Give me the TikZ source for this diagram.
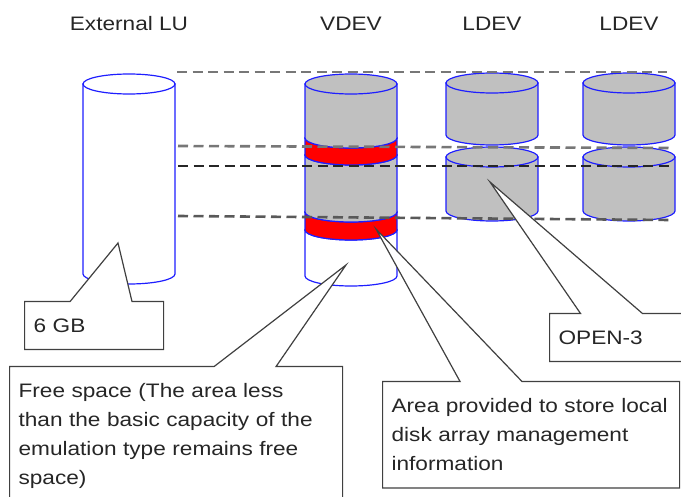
\documentclass[tikz,border=0pt]{standalone}
\usepackage{fontspec}
\setmainfont{Liberation Sans}[FakeStretch=1.16]
\usetikzlibrary{shapes.callouts}
\definecolor{DrumBlue}{HTML}{1E1EFF}
\definecolor{DrumGray}{HTML}{C0C0C0}
\definecolor{DrumRed}{HTML}{FF0000}
\definecolor{GuideGray}{HTML}{777777}
\definecolor{NoteInk}{HTML}{262626}
\definecolor{NoteEdge}{HTML}{404040}

% one slice of a drum: centre x, top y, bottom y, fill
\newcommand{\drumpart}[4]{%
  \filldraw[drum,fill=#4] (#1-46,#2) -- (#1-46,#3)
    arc[start angle=180,end angle=360,x radius=46pt,y radius=10pt] -- (#1+46,#2) -- cycle;
  \filldraw[drum,fill=#4] (#1,#2) ellipse[x radius=46pt,y radius=10pt]}

\begin{document}
\begin{tikzpicture}[x=1pt,y=-1pt,
  drum/.style={draw=DrumBlue,line width=1.2pt},
  guide/.style={draw=GuideGray,line width=2.6pt,dash pattern=on 10pt off 5.5pt},
  head/.style={text=NoteInk,font=\fontsize{19.5}{29}\selectfont,anchor=base,inner sep=0pt},
  note/.style={rectangle callout,draw=NoteEdge,fill=white,line width=1.2pt,text=NoteInk,
    font=\fontsize{19.5}{29}\selectfont,align=left,anchor=north west,
    inner xsep=9pt,inner ysep=17pt,callout pointer width=62pt}
]
\useasboundingbox (0,0) rectangle (681,497);

\node[head] (extlu) at (129,31) {External LU};
\node[head] (vdev) at (351,31) {VDEV};
\node[head] (ldevA) at (492,31) {LDEV};
\node[head] (ldevB) at (629,31) {LDEV};

% drums
\drumpart{129}{84}{274}{white};
\drumpart{351}{230}{276}{white};
\drumpart{351}{212}{230}{DrumRed};
\drumpart{351}{155}{212}{DrumGray};
\drumpart{351}{138}{155}{DrumRed};
\drumpart{351}{84}{138}{DrumGray};
\drumpart{492}{157}{211}{DrumGray};
\drumpart{492}{83}{135}{DrumGray};
\drumpart{629}{157}{211}{DrumGray};
\drumpart{629}{83}{135}{DrumGray};

% guide lines
\coordinate (gTopL) at (177,72);  \coordinate (gTopR) at (667,72);
\coordinate (gRedL) at (178,146); \coordinate (gRedR) at (670,148);
\coordinate (gMidL) at (178,166); \coordinate (gMidR) at (670,166);
\coordinate (gLowL) at (178,216); \coordinate (gLowR) at (670,220);
\draw[guide] (gTopL) -- (gTopR);
\draw[guide] (gRedL) -- (gRedR);
\draw[guide,draw=black!85,line width=2pt] (gMidL) -- (gMidR);
\draw[guide,draw=black!65] (gLowL) -- (gLowR);

% callouts
\coordinate (tipGB) at (118,243);
\coordinate (tipFree) at (346,265);
\coordinate (tipMgmt) at (376,229);
\coordinate (tipOpen) at (490,182);
\node[note,text width=121pt,callout absolute pointer=(tipGB)] (sizeGB) at (24,301) {6 GB};
\node[note,text width=315pt,callout absolute pointer=(tipFree)] (free) at (9,366)
  {Free space (The area less\\than the basic capacity of the\\emulation type remains free\\space)};
\node[note,text width=279pt,callout absolute pointer=(tipMgmt)] (mgmt) at (382,381)
  {Area provided to store local\\disk array management\\information};
\node[note,text width=120pt,callout absolute pointer=(tipOpen)] (open) at (549,313) {OPEN-3};
\end{tikzpicture}
\end{document}
